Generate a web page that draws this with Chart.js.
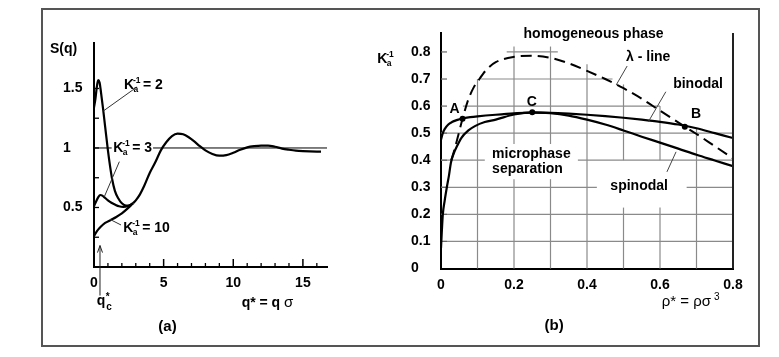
<!DOCTYPE html>
<html><head><meta charset="utf-8">
<script src="https://cdn.jsdelivr.net/npm/chart.js@4.4.1/dist/chart.umd.min.js"></script>
<style>
html,body{margin:0;padding:0;background:#fff;}
#wrap{position:relative;width:779px;height:357px;overflow:hidden;background:#fff;}
#frame{position:absolute;left:41px;top:8px;width:719px;height:339px;box-sizing:border-box;border:2px solid #555;}
#ca{position:absolute;left:0;top:0;}
#cb{position:absolute;left:370px;top:0;}
</style></head><body>
<div id="wrap">
<div id="frame"></div>
<canvas id="ca" width="370" height="357"></canvas>
<canvas id="cb" width="409" height="357"></canvas>
</div>
<script>
// ---------- Panel (a): structure factor S(q) ----------
const q_K2 = [0, 0.1, 0.2, 0.3, 0.4, 0.5, 0.65, 0.8, 1.0, 1.15, 1.3, 1.5, 1.75, 2.0, 2.3, 2.6, 2.8];
const S_K2 = [1.34, 1.41, 1.51, 1.57, 1.55, 1.47, 1.33, 1.18, 0.98, 0.85, 0.74, 0.64, 0.575, 0.535, 0.515, 0.52, 0.535];
const q_K3 = [0, 0.15, 0.3, 0.45, 0.6, 0.8, 1.0, 1.25, 1.5, 1.8, 2.1, 2.4, 2.8];
const S_K3 = [0.51, 0.55, 0.585, 0.605, 0.60, 0.58, 0.56, 0.54, 0.525, 0.51, 0.505, 0.51, 0.535];
const q_K10 = [0, 0.2, 0.5, 0.8, 1.2, 1.6, 2.0, 2.4, 2.8];
const S_K10 = [0.26, 0.30, 0.34, 0.37, 0.395, 0.42, 0.45, 0.49, 0.535];
const q_tail = [2.8, 3.0, 3.3, 3.6, 4.0, 4.4, 4.8, 5.2, 5.6, 6.0, 6.4, 6.8, 7.2, 7.6, 8.0, 8.5, 9.0, 9.5, 10.0, 10.5, 11.0, 11.5, 12.0, 12.5, 13.0, 13.5, 14.0, 14.5, 15.0, 15.5, 16.0, 16.3];
const S_tail = [0.535, 0.56, 0.61, 0.68, 0.79, 0.88, 0.98, 1.05, 1.10, 1.12, 1.115, 1.09, 1.055, 1.015, 0.98, 0.95, 0.935, 0.94, 0.96, 0.985, 1.005, 1.015, 1.02, 1.02, 1.01, 0.995, 0.985, 0.977, 0.973, 0.971, 0.97, 0.97];
const q_ref = [0, 16.73];
const S_ref = [1, 1];
const qTicksMajor = [5, 10, 15];
const qTicksMinor = [1, 2, 3, 4, 6, 7, 8, 9, 11, 12, 13, 14, 16];
const sTicks = [0.25, 0.5, 0.75, 1, 1.25, 1.5];
const qc = 0.43;

// ---------- Panel (b): phase diagram ----------
const rho_binodal = [0, 0.005, 0.01, 0.02, 0.03, 0.045, 0.06, 0.08, 0.1, 0.15, 0.2, 0.25, 0.3, 0.35, 0.4, 0.45, 0.5, 0.55, 0.6, 0.65, 0.7, 0.75, 0.8];
const K_binodal = [0.476, 0.50, 0.515, 0.532, 0.541, 0.549, 0.555, 0.559, 0.562, 0.568, 0.573, 0.576, 0.575, 0.572, 0.568, 0.563, 0.557, 0.55, 0.542, 0.532, 0.518, 0.50, 0.482];
const rho_spinodal = [0, 0.002, 0.005, 0.01, 0.016, 0.022, 0.027, 0.035, 0.045, 0.056, 0.075, 0.093, 0.12, 0.15, 0.2, 0.25, 0.3, 0.35, 0.4, 0.45, 0.5, 0.55, 0.6, 0.65, 0.7, 0.75, 0.8];
const K_spinodal = [0.075, 0.13, 0.20, 0.25, 0.30, 0.345, 0.39, 0.425, 0.455, 0.483, 0.51, 0.526, 0.541, 0.55, 0.569, 0.577, 0.574, 0.565, 0.55, 0.532, 0.51, 0.487, 0.465, 0.443, 0.42, 0.399, 0.378];
const rho_lambda = [0.028, 0.035, 0.045, 0.059, 0.075, 0.09, 0.1, 0.125, 0.15, 0.2, 0.25, 0.3, 0.35, 0.4, 0.45, 0.5, 0.55, 0.6, 0.668, 0.7, 0.75, 0.8];
const K_lambda = [0.40, 0.43, 0.48, 0.553, 0.625, 0.67, 0.69, 0.735, 0.762, 0.782, 0.786, 0.778, 0.758, 0.73, 0.70, 0.666, 0.627, 0.583, 0.524, 0.497, 0.452, 0.407];
const pointNames = ['A', 'C', 'B'];
const rho_points = [0.059, 0.25, 0.668];
const K_points = [0.553, 0.577, 0.524];
const rhoGrid = [0.1, 0.2, 0.3, 0.4, 0.5, 0.6, 0.7];
const KGrid = [0.1, 0.2, 0.3, 0.4, 0.5, 0.6, 0.7, 0.8];

// grid segments of panel (b) in data units (the original grid is partial)
const gridV = {0.1: [[0, 0.70]], 0.2: [[0, 0.33], [0.46, 0.82]], 0.3: [[0, 0.33], [0.46, 0.82]], 0.4: [[0, 0.755]],
  0.5: [[0, 0.225], [0.40, 0.68]], 0.6: [[0, 0.225], [0.40, 0.60]], 0.7: [[0, 0.52]]};
const gridH = {0.1: [[0, 0.8]], 0.2: [[0, 0.8]], 0.3: [[0, 0.427], [0.673, 0.8]], 0.4: [[0, 0.12], [0.375, 0.8]],
  0.5: [[0, 0.8]], 0.6: [[0.06, 0.6]], 0.7: [[0.11, 0.47]], 0.8: [[0.18, 0.32]]};

const FAM = '"Liberation Sans", Arial, sans-serif';
const B14 = 'bold 14px ' + FAM;
const B15 = 'bold 15px ' + FAM;
const B8 = 'bold 8.5px ' + FAM;
const zip = (xs, ys) => xs.map((x, i) => ({x, y: ys[i]}));

function T(ctx, text, x, y, font, align) {
  ctx.font = font; ctx.textAlign = align || 'left'; ctx.textBaseline = 'alphabetic';
  ctx.fillStyle = '#000'; ctx.fillText(text, x, y);
}
function drawK(ctx, x, y, suffix) {
  T(ctx, 'K', x, y, B14);
  T(ctx, '-1', x + 9, y - 6, B8);
  T(ctx, 'a', x + 9.5, y + 3, B8);
  if (suffix) T(ctx, suffix, x + 19, y, B14);
}
function line(ctx, x0, y0, x1, y1, w, c) {
  ctx.beginPath(); ctx.moveTo(x0, y0); ctx.lineTo(x1, y1);
  ctx.lineWidth = w; ctx.strokeStyle = c; ctx.stroke();
}

const plugA = {
  id: 'plugA',
  afterDatasetDraw(chart, args) {
    if (args.index !== chart.data.datasets.length - 1) return;
    const sx = chart.scales.x, sy = chart.scales.y, ctx = chart.ctx;
    const x0 = sx.getPixelForValue(1.27), x1 = sx.getPixelForValue(4.24);
    const y0 = sy.getPixelForValue(1.06), y1 = sy.getPixelForValue(0.91);
    ctx.save(); ctx.fillStyle = '#fff'; ctx.fillRect(x0, y0, x1 - x0, y1 - y0); ctx.restore();
  },
  afterDraw(chart) {
    const sx = chart.scales.x, sy = chart.scales.y, ctx = chart.ctx;
    const X = v => sx.getPixelForValue(v), Y = v => sy.getPixelForValue(v);
    ctx.save();
    const ax = X(0), ay = Y(0);
    sTicks.forEach(v => line(ctx, ax, Y(v), ax + 5, Y(v), 1.3, '#000'));
    qTicksMinor.forEach(v => line(ctx, X(v), ay, X(v), ay - 4, 1.3, '#000'));
    qTicksMajor.forEach(v => line(ctx, X(v), ay, X(v), ay - 8, 1.5, '#000'));
    // leaders
    line(ctx, X(3.09), Y(1.513), X(0.66), Y(1.31), 1, '#333');
    line(ctx, X(1.82), Y(0.885), X(0.74), Y(0.59), 1, '#333');
    line(ctx, X(1.94), Y(0.353), X(1.15), Y(0.40), 1, '#333');
    // q_c arrow
    const axx = X(qc), yTop = Y(0.18), yBot = Y(-0.24);
    line(ctx, axx, yBot, axx, yTop, 1, '#222');
    line(ctx, axx, yTop, axx - 2.5, yTop + 7, 1, '#222');
    line(ctx, axx, yTop, axx + 2.5, yTop + 7, 1, '#222');
    // texts
    T(ctx, 'S(q)', X(-3.16), Y(1.794), B14);
    drawK(ctx, X(2.15), Y(1.494), '= 2');
    drawK(ctx, X(1.38), Y(0.965), '= 3');
    drawK(ctx, X(2.1), Y(0.292), '= 10');
    T(ctx, '(a)', X(5.28), Y(-0.534), B15, 'center');
    const tx = X(10.6), ty = Y(-0.332);
    T(ctx, 'q* = q', tx, ty, B14);
    ctx.font = B14; const w = ctx.measureText('q* = q ').width;
    T(ctx, 'σ', tx + w, ty, '15px ' + FAM);
    const qx = X(0.19), qy = Y(-0.323);
    T(ctx, 'q', qx, qy, B14);
    T(ctx, '*', qx + 9, qy - 5, 'bold 10px ' + FAM);
    T(ctx, 'c', qx + 9.5, qy + 5, 'bold 10px ' + FAM);
    ctx.restore();
  }
};

const plugB = {
  id: 'plugB',
  beforeDatasetsDraw(chart) {
    const sx = chart.scales.x, sy = chart.scales.y, ctx = chart.ctx;
    const X = v => sx.getPixelForValue(v), Y = v => sy.getPixelForValue(v);
    ctx.save();
    rhoGrid.forEach(r => (gridV[r] || []).forEach(s => line(ctx, X(r), Y(s[0]), X(r), Y(s[1]), 1.2, '#8a8a8a')));
    KGrid.forEach(k => (gridH[k] || []).forEach(s => line(ctx, X(s[0]), Y(k), X(s[1]), Y(k), 1.2, '#8a8a8a')));
    KGrid.forEach(k => line(ctx, X(0), Y(k), X(0) + 6, Y(k), 1.2, '#666'));
    ctx.restore();
  },
  afterDraw(chart) {
    const sx = chart.scales.x, sy = chart.scales.y, ctx = chart.ctx;
    const X = v => sx.getPixelForValue(v), Y = v => sy.getPixelForValue(v);
    ctx.save();
    line(ctx, X(0.8), chart.chartArea.top, X(0.8), Y(0), 2, '#222');
    // leaders
    line(ctx, X(0.51), Y(0.748), X(0.48), Y(0.678), 1, '#444');
    line(ctx, X(0.616), Y(0.653), X(0.568), Y(0.542), 1, '#444');
    line(ctx, X(0.644), Y(0.431), X(0.619), Y(0.357), 1, '#444');
    T(ctx, 'homogeneous phase', X(0.418), Y(0.852), B14, 'center');
    T(ctx, 'λ - line', X(0.507), Y(0.767), B14);
    T(ctx, 'binodal', X(0.636), Y(0.666), B14);
    T(ctx, 'microphase', X(0.14), Y(0.408), B14);
    T(ctx, 'separation', X(0.14), Y(0.352), B14);
    T(ctx, 'spinodal', X(0.464), Y(0.290), B14);
    const labPos = [[0.023, 0.574], [0.235, 0.60], [0.685, 0.555]];
    pointNames.forEach((n, i) => T(ctx, n, X(labPos[i][0]), Y(labPos[i][1]), B14));
    T(ctx, '(b)', X(0.31), Y(-0.228), B15, 'center');
    const tx = X(0.605), ty = Y(-0.139);
    ctx.font = '15px ' + FAM;
    T(ctx, 'ρ* = ρσ', tx, ty, '15px ' + FAM);
    const w = ctx.measureText('ρ* = ρσ').width;
    T(ctx, '3', tx + w + 3, ty - 6, '10px ' + FAM);
    drawK(ctx, X(-0.175), Y(0.76), '');
    ctx.restore();
  }
};

const tickFont = {family: FAM, size: 14, weight: 'bold'};

new Chart(document.getElementById('ca'), {
  type: 'scatter',
  data: {datasets: [
    {data: zip(q_K2, S_K2), showLine: true},
    {data: zip(q_K3, S_K3), showLine: true},
    {data: zip(q_K10, S_K10), showLine: true},
    {data: zip(q_tail, S_tail), showLine: true},
    {data: zip(q_ref, S_ref), showLine: true, borderWidth: 1}
  ]},
  options: {
    responsive: false, animation: false, devicePixelRatio: 1,
    plugins: {legend: {display: false}, tooltip: {enabled: false}},
    layout: {padding: {left: 63, top: 43, right: 43, bottom: 0}},
    elements: {point: {radius: 0}, line: {borderColor: '#000', borderWidth: 2.2, cubicInterpolationMode: 'monotone', fill: false}},
    scales: {
      x: {type: 'linear', min: 0, max: 16.73,
        grid: {display: false, drawTicks: false}, border: {display: true, color: '#000', width: 2},
        ticks: {stepSize: 5, includeBounds: false, padding: 8, color: '#000', font: tickFont, maxRotation: 0},
        afterFit(s) { s.height = 90; }},
      y: {type: 'linear', min: 0, max: 1.882,
        grid: {display: false, drawTicks: false}, border: {display: true, color: '#000', width: 2},
        ticks: {stepSize: 0.5, includeBounds: false, crossAlign: 'far', color: '#000', font: tickFont,
          callback: v => v === 0 ? '' : String(v)},
        afterFit(s) { s.width = 31; }}
    }
  },
  plugins: [plugA]
});

new Chart(document.getElementById('cb'), {
  type: 'scatter',
  data: {datasets: [
    {data: zip(rho_points, K_points), showLine: false, pointRadius: 3, pointBackgroundColor: '#000', pointBorderWidth: 0},
    {data: zip(rho_binodal, K_binodal), showLine: true},
    {data: zip(rho_spinodal, K_spinodal), showLine: true},
    {data: zip(rho_lambda, K_lambda), showLine: true, borderDash: [11, 6], borderWidth: 2}
  ]},
  options: {
    responsive: false, animation: false, devicePixelRatio: 1,
    plugins: {legend: {display: false}, tooltip: {enabled: false}},
    layout: {padding: {left: 41, top: 33, right: 46, bottom: 0}},
    elements: {point: {radius: 0}, line: {borderColor: '#000', borderWidth: 2.2, cubicInterpolationMode: 'monotone', fill: false}},
    scales: {
      x: {type: 'linear', min: 0, max: 0.8,
        grid: {display: false, drawTicks: false}, border: {display: true, color: '#000', width: 2},
        ticks: {stepSize: 0.2, includeBounds: false, padding: 8, color: '#000', font: tickFont, maxRotation: 0},
        afterFit(s) { s.height = 88.5; }},
      y: {type: 'linear', min: 0, max: 0.870,
        grid: {display: false, drawTicks: false}, border: {display: true, color: '#000', width: 2},
        ticks: {stepSize: 0.1, includeBounds: false, crossAlign: 'far', color: '#000', font: tickFont},
        afterFit(s) { s.width = 30; }}
    }
  },
  plugins: [plugB]
});
</script>
</body></html>
